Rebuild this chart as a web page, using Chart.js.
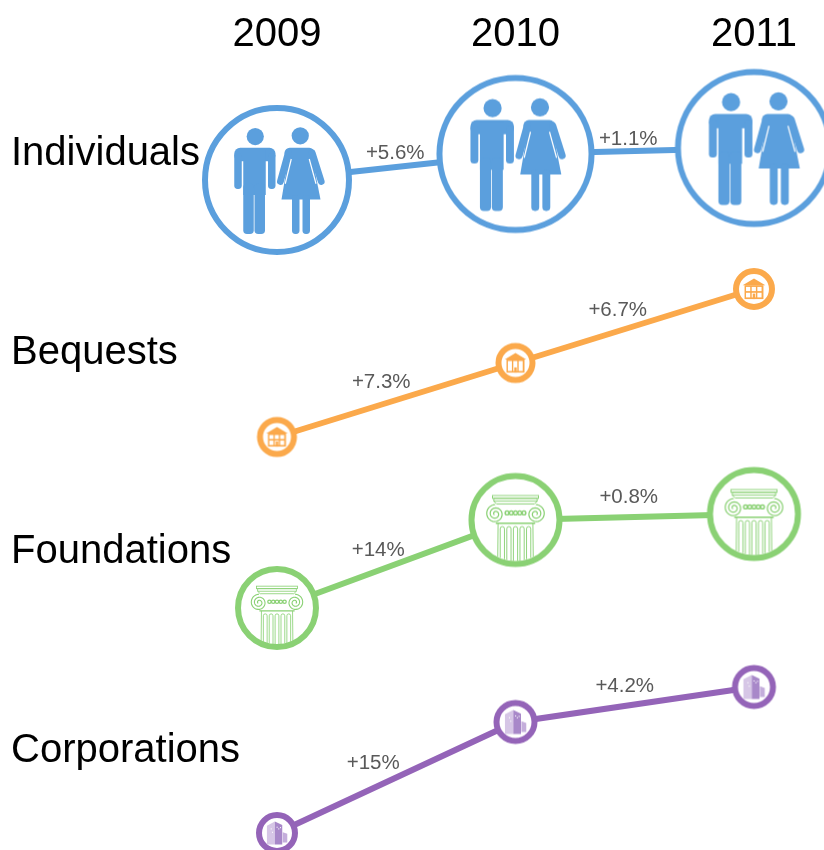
<!DOCTYPE html>
<html>
<head>
<meta charset="utf-8">
<title>Giving by source</title>
<script src="https://cdn.jsdelivr.net/npm/chart.js@4"></script>
<style>
  html, body { margin: 0; padding: 0; background: #fff; overflow: hidden; }
  #wrap { width: 824px; height: 850px; }
</style>
</head>
<body>
<div id="wrap"><canvas id="chart" width="824" height="850"></canvas></div>
<script>
const years = ['2009', '2010', '2011']
const rowNames = ['Individuals', 'Bequests', 'Foundations', 'Corporations']
const rowLevels = [696, 497, 298, 99]

// height of each point on the chart
const individualsLevel = [670, 696, 702]
const bequestsLevel = [413, 487, 561]
const foundationsLevel = [242, 330, 336]
const corporationsLevel = [17, 128, 163]

// amount shown by the area of each circle
const individualsAmount = [208, 231, 231]
const bequestsAmount = [14.8, 14.8, 16.3]
const foundationsAmount = [65.2, 81.7, 81.7]
const corporationsAmount = [16.3, 17.9, 17.9]

const individualsGrowth = ['+5.6%', '+1.1%']
const bequestsGrowth = ['+7.3%', '+6.7%']
const foundationsGrowth = ['+14%', '+0.8%']
const corporationsGrowth = ['+15%', '+4.2%']

const FONT = '"Liberation Sans", Arial, sans-serif'
const RING = 6

const radiusOf = (amount) => 5.2 * Math.sqrt(amount)

const rr = (c, x, y, w, h, r) => {
    c.beginPath()
    c.roundRect(x, y, w, h, r)
    c.fill()
}

// all icon coordinates are relative to the circle centre, ring radius = 100
const drawPeople = (c, color) => {
    c.fillStyle = color
    // man
    c.beginPath(); c.arc(-29, -58, 11.5, 0, Math.PI * 2); c.fill()
    rr(c, -57, -43, 55, 18, 8)
    rr(c, -57, -36, 10, 48, 4.5)
    rr(c, -12, -36, 10, 48, 4.5)
    c.fillRect(-45, -40, 30, 60)
    rr(c, -45, 5, 14, 67, 5)
    rr(c, -30, 5, 14, 67, 5)
    // woman
    c.beginPath(); c.arc(31, -59, 11.5, 0, Math.PI * 2); c.fill()
    rr(c, 10, -43, 40, 14, 7)
    c.beginPath()
    c.moveTo(17, -40); c.lineTo(45, -40); c.lineTo(58, 26); c.lineTo(6, 26)
    c.closePath(); c.fill()
    c.strokeStyle = color
    c.lineWidth = 9
    c.lineCap = 'round'
    c.beginPath(); c.moveTo(15, -36); c.lineTo(4.5, 2); c.stroke()
    c.beginPath(); c.moveTo(47, -36); c.lineTo(59, 2); c.stroke()
    c.strokeStyle = '#fff'
    c.lineWidth = 1.6
    c.lineCap = 'butt'
    c.beginPath(); c.moveTo(19, -28); c.lineTo(11, 5); c.stroke()
    c.beginPath(); c.moveTo(43, -28); c.lineTo(52, 5); c.stroke()
    rr(c, 20, 20, 10, 52, 4.5)
    rr(c, 34, 20, 10, 52, 4.5)
}

const drawHouse = (c, color, yearIndex) => {
    c.fillStyle = color
    c.beginPath()
    c.moveTo(0, -50); c.lineTo(54, -18); c.lineTo(-54, -18)
    c.closePath(); c.fill()
    c.fillRect(-45, -18, 90, 66)
    c.fillStyle = '#fff'
    const cols = [-38, -11, 16]
    cols.forEach(x => {
        // the 2010 house has tall windows, the others two rows
        if (yearIndex === 1) {
            c.fillRect(x, -10, 20, 50)
        } else {
            c.fillRect(x, -10, 20, 20)
            c.fillRect(x, 18, 20, 22)
        }
    })
    c.fillStyle = color
    c.fillRect(-6, 22, 12, 26)
}

const drawColumn = (c, color) => {
    c.save()
    c.beginPath()
    c.arc(0, 0, 87, 0, Math.PI * 2)
    c.clip()
    c.strokeStyle = color
    c.lineWidth = 2
    // abacus
    c.strokeRect(-49, -52, 98, 6)
    c.strokeRect(-46, -46, 92, 6)
    c.beginPath()
    c.moveTo(-46, -40); c.lineTo(-40, -34); c.lineTo(40, -34); c.lineTo(46, -40)
    c.stroke()
    // band under the volutes
    c.lineWidth = 3
    c.beginPath(); c.moveTo(-42, 7); c.lineTo(42, 7); c.stroke()
    // egg and dart
    c.lineWidth = 3
    for (let x = -18; x <= 18; x += 9) {
        c.beginPath(); c.arc(x, -15, 4, 0, Math.PI * 2); c.stroke()
    }
    // volutes
    ;[-1, 1].forEach(side => {
        const cx = side * 43
        const cy = -13
        c.lineWidth = 2.6
        c.beginPath()
        for (let t = 0; t < 15; t += 0.2) {
            const rad = 20 * (1 - t / 17)
            const a = side * t - Math.PI / 2
            const px = cx + rad * Math.cos(a)
            const py = cy + rad * Math.sin(a)
            if (t === 0) c.moveTo(px, py)
            else c.lineTo(px, py)
        }
        c.stroke()
    })
    // shaft and flutes
    c.lineWidth = 2
    c.beginPath(); c.moveTo(-37, 7); c.lineTo(-38, 100); c.stroke()
    c.beginPath(); c.moveTo(37, 7); c.lineTo(38, 100); c.stroke()
    for (let x = -28; x <= 28; x += 14) {
        c.beginPath()
        c.roundRect(x - 4.5, 14, 9, 90, 4.5)
        c.stroke()
    }
    c.restore()
}

const drawBuilding = (c, color) => {
    // light face
    c.fillStyle = '#d6c6e6'
    c.beginPath()
    c.moveTo(-48, -35); c.lineTo(-10, -55); c.lineTo(-10, 55); c.lineTo(-48, 55)
    c.closePath(); c.fill()
    // dark face
    c.fillStyle = '#a888c9'
    c.beginPath()
    c.moveTo(-10, -55); c.lineTo(25, -38); c.lineTo(25, 55); c.lineTo(-10, 55)
    c.closePath(); c.fill()
    // side block
    c.fillStyle = '#c4aedb'
    c.beginPath()
    c.moveTo(27, -3); c.lineTo(49, 4); c.lineTo(49, 45); c.lineTo(27, 45)
    c.closePath(); c.fill()
    // lit windows
    c.fillStyle = '#fff'
    ;[[-2, -30], [6, -22], [14, -28], [-30, -22], [-24, -6]].forEach(w => {
        c.fillRect(w[0], w[1], 5, 5)
    })
}

const makeMarker = (amount, color, drawIcon, yearIndex) => {
    const r = radiusOf(amount)
    const size = Math.ceil(r * 2) + 2
    const cv = document.createElement('canvas')
    cv.width = size
    cv.height = size
    const c = cv.getContext('2d')
    c.translate(size / 2, size / 2)
    c.beginPath()
    c.arc(0, 0, r - RING / 2, 0, Math.PI * 2)
    c.fillStyle = '#fff'
    c.fill()
    c.lineWidth = RING
    c.strokeStyle = color
    c.stroke()
    c.save()
    c.scale(r / 100, r / 100)
    drawIcon(c, color, yearIndex)
    c.restore()
    return cv
}

const makeSeries = (name, levels, amounts, growth, color, drawIcon, offsets) => ({
    label: name,
    data: levels,
    growth: growth,
    growthOffsets: offsets,
    borderColor: color,
    backgroundColor: color,
    borderWidth: 6,
    tension: 0,
    clip: false,
    pointRadius: amounts.map(radiusOf),
    pointStyle: amounts.map((a, i) => makeMarker(a, color, drawIcon, i))
})

// label position relative to the segment midpoint
const growthLabels = {
    id: 'growthLabels',
    afterDatasetsDraw(chart) {
        const c = chart.ctx
        const x = chart.scales.x
        const y = chart.scales.y
        c.save()
        c.font = '20.5px ' + FONT
        c.fillStyle = '#595959'
        c.textAlign = 'center'
        c.textBaseline = 'middle'
        chart.data.datasets.forEach(ds => {
            ds.growth.forEach((text, i) => {
                const mx = (x.getPixelForTick(i) + x.getPixelForTick(i + 1)) / 2
                const my = (y.getPixelForValue(ds.data[i]) + y.getPixelForValue(ds.data[i + 1])) / 2
                c.fillText(text, mx + ds.growthOffsets[i][0], my + ds.growthOffsets[i][1])
            })
        })
        c.restore()
    }
}

// the scales would otherwise pad the chart area for half a tick label
const noPadding = (scale) => {
    scale.paddingLeft = 0
    scale.paddingRight = 0
    scale.paddingTop = 0
    scale.paddingBottom = 0
}

const chart = new Chart(document.getElementById('chart').getContext('2d'), {
    type: 'line',
    data: {
        labels: years,
        datasets: [
            makeSeries('Individuals', individualsLevel, individualsAmount, individualsGrowth, '#5b9fdd', drawPeople, [[-1, -14], [-6.5, -12]]),
            makeSeries('Bequests', bequestsLevel, bequestsAmount, bequestsGrowth, '#fba94b', drawHouse, [[-15, -18], [-17, -16]]),
            makeSeries('Foundations', foundationsLevel, foundationsAmount, foundationsGrowth, '#8ad174', drawColumn, [[-18, -14], [-6, -20]]),
            makeSeries('Corporations', corporationsLevel, corporationsAmount, corporationsGrowth, '#9464b8', drawBuilding, [[-23, -14], [-10, -18]])
        ]
    },
    options: {
        responsive: false,
        animation: false,
        events: [],
        layout: { autoPadding: false, padding: { left: 11, right: 70, top: 0, bottom: 0 } },
        plugins: { legend: { display: false }, tooltip: { enabled: false }, title: { display: false } },
        scales: {
            x: {
                type: 'category',
                position: 'top',
                offset: false,
                afterFit: (scale) => { scale.height = 60; noPadding(scale) },
                border: { display: false },
                grid: { display: false, drawTicks: false },
                ticks: {
                    color: '#000',
                    font: { family: FONT, size: 40 },
                    padding: 1,
                    maxRotation: 0,
                    autoSkip: false
                }
            },
            y: {
                type: 'linear',
                min: 0,
                max: 790,
                afterBuildTicks: (scale) => { scale.ticks = rowLevels.map(v => ({ value: v })) },
                afterFit: (scale) => { scale.width = 266; noPadding(scale) },
                border: { display: false },
                grid: { display: false, drawTicks: false },
                ticks: {
                    color: '#000',
                    font: { family: FONT, size: 40 },
                    padding: 0,
                    crossAlign: 'far',
                    autoSkip: false,
                    callback: (v) => rowNames[rowLevels.indexOf(v)]
                }
            }
        }
    },
    plugins: [growthLabels]
})
</script>
</body>
</html>
